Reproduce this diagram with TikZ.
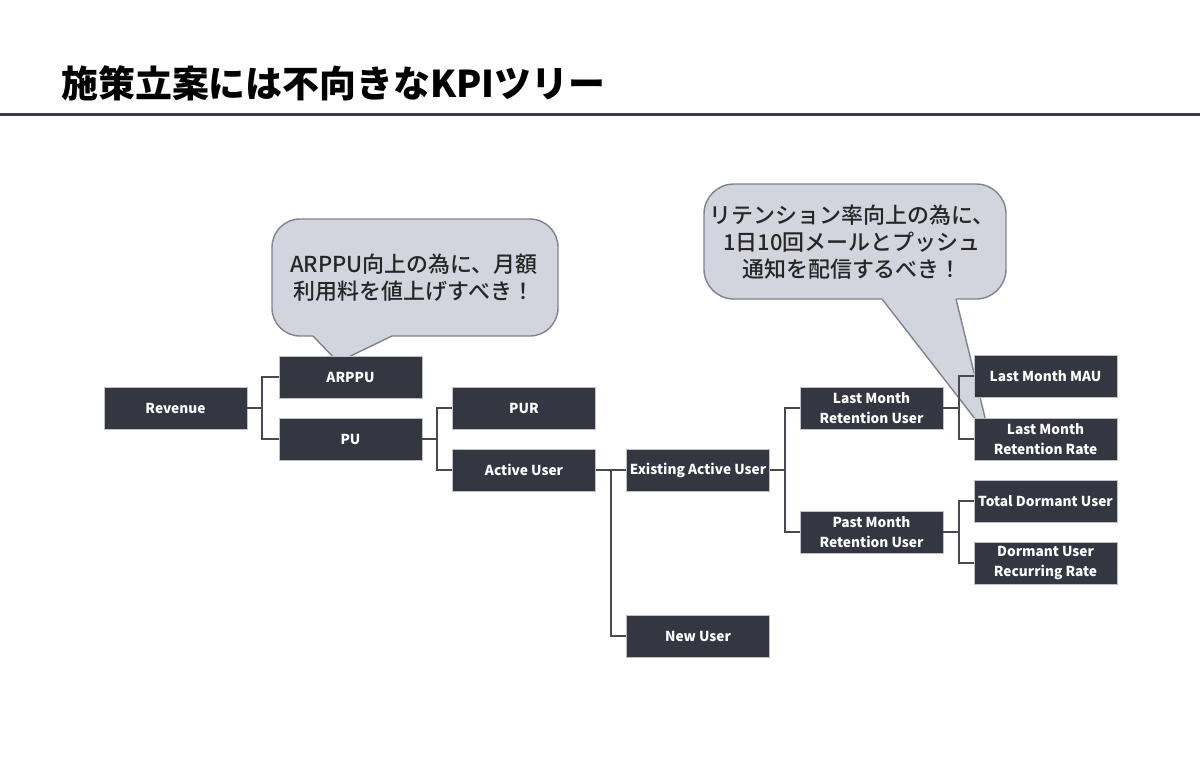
\documentclass[tikz,border=0pt]{standalone}
\usepackage{fontspec}
\setmainfont{Noto Sans CJK JP}
\newfontfamily\notefont{Noto Sans CJK JP}[UprightFont=* Medium]
\definecolor{boxfill}{RGB}{52,55,66}
\definecolor{boxedge}{RGB}{190,192,198}
\definecolor{linkcol}{RGB}{70,72,82}
\definecolor{notefill}{RGB}{210,213,222}
\definecolor{noteedge}{RGB}{128,131,143}
\definecolor{rulecol}{RGB}{58,59,74}

\begin{document}
\begin{tikzpicture}[x=0.02cm, y=-0.02cm,
  kpi/.style={draw=boxedge, line width=0.3pt, fill=boxfill, text=white,
    font=\bfseries\fontsize{7.8}{11.8}\selectfont, align=center,
    minimum width=2.86cm, minimum height=0.84cm, inner sep=1pt},
  link/.style={draw=linkcol, line width=1.1pt},
  note/.style={fill=notefill, draw=noteedge, line width=0.8pt},
  notetext/.style={font=\notefont\fontsize{12.5}{15.2}\selectfont, text=black!85, align=center}]
  \fill[white] (0,0) rectangle (1200,779);
  \useasboundingbox (0,0) rectangle (1200,779);

  % title
  \node[anchor=west, inner sep=0pt, font=\bfseries\fontsize{21}{24}\selectfont] (title) at (61,83) {施策立案には不向きなKPIツリー};
  \draw[rulecol, line width=1.7pt] (0,114) -- (1200,114);

  % callouts
  \draw[note, rounded corners=16] (272,219) rectangle (558,336);
  \fill[notefill] (313,333) -- (313,336) -- (338,362) -- (392,336) -- (392,333) -- cycle;
  \draw[noteedge, line width=0.8pt, line join=round] (313,336) -- (338,362) -- (392,336);
  \node[notetext] (arppuidea) at (414,278) {ARPPU向上の為に、月額\\利用料を値上げすべき！};

  \draw[note, rounded corners=17] (704,184) rectangle (1006,299);
  \fill[notefill] (882,296) -- (882,299) -- (990,438) -- (956,299) -- (956,296) -- cycle;
  \draw[noteedge, line width=0.8pt, line join=round] (882,299) -- (990,438) -- (956,299);
  \node[notetext] (retentionidea) at (852,242) {リテンション率向上の為に、\\1日10回メールとプッシュ\\通知を配信するべき！};

  % tree
  \node[kpi] (revenue) at (175.5,408) {Revenue};
  \node[kpi] (arppu) at (350.5,377) {ARPPU};
  \node[kpi] (pu) at (350.5,439) {PU};
  \node[kpi] (pur) at (524,408) {PUR};
  \node[kpi] (active) at (524,470) {Active User};
  \node[kpi] (existing) at (698,470) {Existing Active User};
  \node[kpi] (newuser) at (698,636) {New User};
  \node[kpi] (lastret) at (871.5,408) {Last Month\\Retention User};
  \node[kpi] (pastret) at (871.5,532) {Past Month\\Retention User};
  \node[kpi] (mau) at (1045.5,376) {Last Month MAU};
  \node[kpi] (retrate) at (1045.5,439) {Last Month\\Retention Rate};
  \node[kpi] (dormant) at (1045.5,501) {Total Dormant User};
  \node[kpi] (recurring) at (1045.5,563) {Dormant User\\Recurring Rate};

  \draw[link] (revenue.east) -- ++(15,0) |- (arppu.west);
  \draw[link] (revenue.east) -- ++(15,0) |- (pu.west);
  \draw[link] (pu.east) -- ++(15,0) |- (pur.west);
  \draw[link] (pu.east) -- ++(15,0) |- (active.west);
  \draw[link] (active.east) -- (existing.west);
  \draw[link] (active.east) -- ++(15,0) |- (newuser.west);
  \draw[link] (existing.east) -- ++(15,0) |- (lastret.west);
  \draw[link] (existing.east) -- ++(15,0) |- (pastret.west);
  \draw[link] (lastret.east) -- ++(16,0) |- (mau.west);
  \draw[link] (lastret.east) -- ++(16,0) |- (retrate.west);
  \draw[link] (pastret.east) -- ++(16,0) |- (dormant.west);
  \draw[link] (pastret.east) -- ++(16,0) |- (recurring.west);
\end{tikzpicture}
\end{document}
